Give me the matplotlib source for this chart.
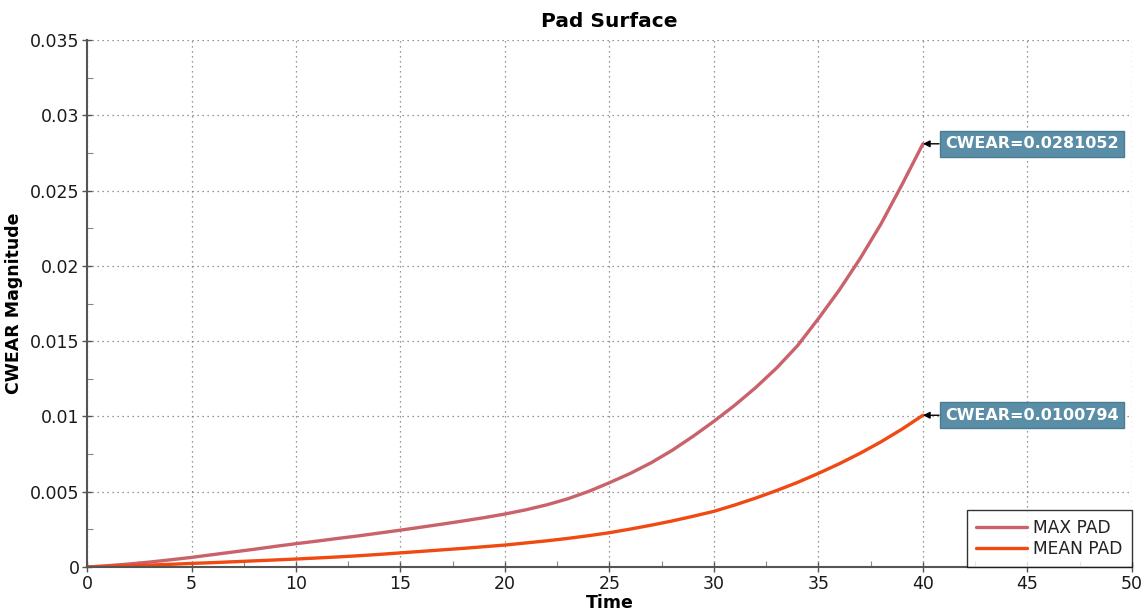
import matplotlib
matplotlib.use("Agg")
import matplotlib.pyplot as plt
from matplotlib.ticker import MultipleLocator

# Wear history on the pad surface, sampled once per time unit
time = list(range(0, 41))
max_pad = [0, 0.00009, 0.00020, 0.00033, 0.00048, 0.00064, 0.00082, 0.00100,
           0.00118, 0.00137, 0.00155, 0.00172, 0.00190, 0.00207, 0.00226,
           0.00245, 0.00265, 0.00285, 0.00306, 0.00328, 0.00352, 0.00380,
           0.00413, 0.00453, 0.00502, 0.00560, 0.00622, 0.00693, 0.00775,
           0.00868, 0.00968, 0.01075, 0.01192, 0.01322, 0.01470, 0.01650,
           0.01840, 0.02050, 0.02280, 0.02540, 0.0281052]
mean_pad = [0, 0.00004, 0.00009, 0.00013, 0.00018, 0.00024, 0.00029, 0.00035,
            0.00041, 0.00047, 0.00053, 0.00060, 0.00067, 0.00075, 0.00084,
            0.00094, 0.00104, 0.00114, 0.00124, 0.00135, 0.00146, 0.00160,
            0.00174, 0.00190, 0.00208, 0.00228, 0.00252, 0.00278, 0.00306,
            0.00337, 0.00370, 0.00412, 0.00458, 0.00508, 0.00562, 0.00622,
            0.00686, 0.00756, 0.00832, 0.00916, 0.0100794]

series_labels = ["MAX PAD", "MEAN PAD"]
x_ticks = [0, 5, 10, 15, 20, 25, 30, 35, 40, 45, 50]
y_ticks = [0, 0.005, 0.01, 0.015, 0.02, 0.025, 0.03, 0.035]
y_tick_labels = ["0", "0.005", "0.01", "0.015", "0.02", "0.025", "0.03", "0.035"]

plt.rcParams["font.family"] = ["DejaVu Sans"]

fig = plt.figure(figsize=(11.48, 6.14), dpi=100)
ax = fig.add_axes([0.0758, 0.0765, 0.9102, 0.8584])

ax.plot(time, max_pad, color="#c9626a", lw=2.4, label=series_labels[0],
        solid_capstyle="round")
ax.plot(time, mean_pad, color="#f04a12", lw=2.4, label=series_labels[1],
        solid_capstyle="round")

ax.set_xlim(0, 50)
ax.set_ylim(0, 0.035)
ax.set_xticks(x_ticks)
ax.set_xticklabels([str(t) for t in x_ticks])
ax.set_yticks(y_ticks)
ax.set_yticklabels(y_tick_labels)
ax.xaxis.set_minor_locator(MultipleLocator(2.5))
ax.yaxis.set_minor_locator(MultipleLocator(0.0025))

ax.grid(True, which="major", linestyle=(0, (1, 3)), color="#777777", lw=0.9)
for side in ("top", "right"):
    ax.spines[side].set_visible(False)
for side in ("left", "bottom"):
    ax.spines[side].set_color("#555555")
    ax.spines[side].set_linewidth(1.5)

ax.tick_params(which="major", direction="inout", length=7, width=1,
               color="#555555", labelsize=12.5, labelcolor="#1a1a1a", pad=2)
ax.tick_params(which="minor", direction="in", length=4, width=0.8,
               color="#888888")

ax.set_title("Pad Surface", fontsize=14.5, fontweight="bold", pad=9)
ax.set_xlabel("Time", fontsize=12.5, fontweight="bold", labelpad=1)
ax.set_ylabel("CWEAR Magnitude", fontsize=12.5, fontweight="bold", labelpad=5)

# Value callouts at the last time step
box_style = dict(boxstyle="square,pad=0.35", fc="#5a8ea6", ec="#4a7d94", lw=1)
arrow_style = dict(arrowstyle="-|>", color="black", lw=1, mutation_scale=10,
                   shrinkA=0, shrinkB=0)
for ys in (max_pad, mean_pad):
    ax.annotate(f"CWEAR={ys[-1]:.7g}", xy=(time[-1], ys[-1]),
                xytext=(16, 0), textcoords="offset points",
                ha="left", va="center", fontsize=11.5, fontweight="bold",
                color="white", bbox=box_style, arrowprops=arrow_style,
                annotation_clip=False)

leg = ax.legend(loc="lower right", fontsize=12.3, frameon=True, fancybox=False,
                edgecolor="black", borderaxespad=0, handlelength=3.0,
                handletextpad=0.35, labelspacing=0.15, borderpad=0.55)
leg.get_frame().set_linewidth(1.0)
for t in leg.get_texts():
    t.set_color("#222222")

fig.savefig("out.png", dpi=100)
